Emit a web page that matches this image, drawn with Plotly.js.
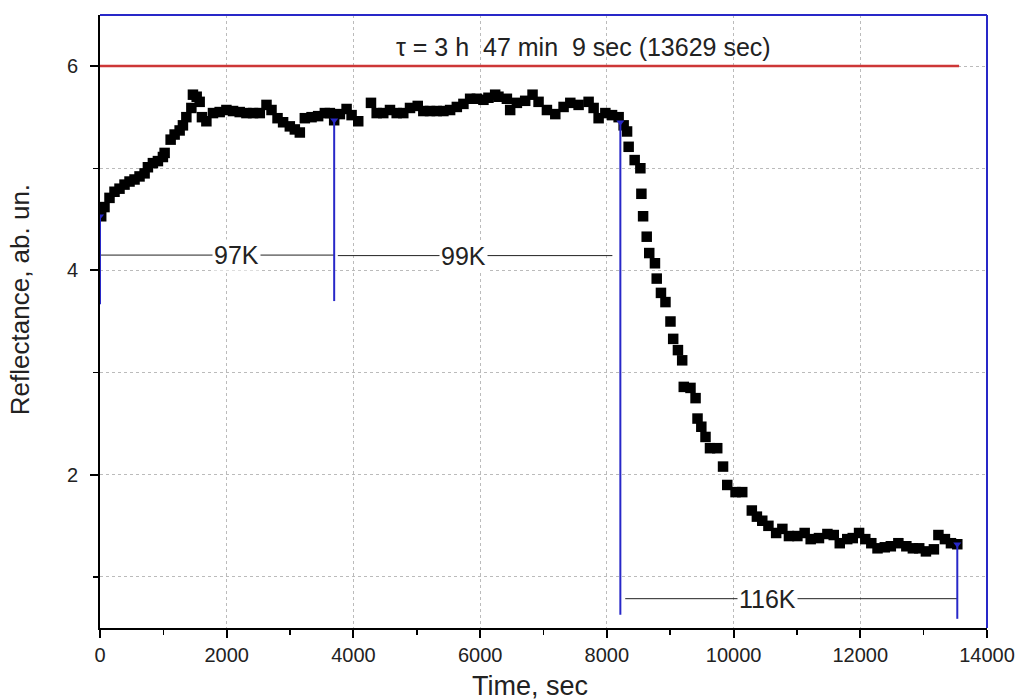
<!DOCTYPE html>
<html>
<head>
<meta charset="utf-8">
<script src="https://cdn.plot.ly/plotly-3.0.1.min.js"></script>
<style>html,body{margin:0;padding:0;background:#fff;}#chart{width:1020px;height:700px;}</style>
</head>
<body>
<div id="chart"></div>
<script>
// Measured reflectance (time in sec, reflectance in arb. units)
const timeSec = [
  19, 71, 150, 229, 308, 387, 466, 545, 624, 704, 756, 835, 914, 993, 1020,
  1115, 1178, 1257, 1309, 1363, 1442, 1467, 1526, 1573, 1609, 1679, 1783, 1889, 1995, 2100,
  2205, 2311, 2416, 2522, 2628, 2707, 2802, 2890, 2996, 3075, 3154,
  3233, 3339, 3443, 3549, 3628, 3696, 3786, 3892, 3971, 4076,
  4277, 4367, 4471, 4577, 4683, 4787, 4893, 5015, 5103, 5209, 5315, 5420, 5526, 5632, 5736,
  5842, 5948, 6052, 6131, 6237, 6289, 6422, 6474, 6580, 6711, 6827, 6922, 7054, 7186, 7317,
  7423, 7554, 7712, 7791, 7870, 7976, 8082, 8186,
  8265, 8319, 8344, 8439, 8529, 8545, 8572, 8629, 8669, 8759, 8787, 8854, 8925, 9004, 9047,
  9122, 9189, 9214, 9320, 9400, 9431, 9491, 9557, 9628, 9742, 9834, 9900, 10031, 10137,
  10288, 10368, 10453, 10550, 10672, 10770, 10874, 11007, 11122, 11217, 11348, 11481, 11581,
  11676, 11794, 11881, 11981, 12079, 12174, 12272, 12387, 12482, 12601, 12727, 12830, 12930,
  13036, 13162, 13233, 13336, 13431, 13531
];
const reflectance = [
  4.53, 4.62, 4.71, 4.77, 4.80, 4.84, 4.87, 4.89, 4.92, 4.95, 5.01, 5.05, 5.07, 5.11, 5.15,
  5.28, 5.33, 5.37, 5.42, 5.50, 5.59, 5.72, 5.70, 5.65, 5.50, 5.46, 5.54, 5.55, 5.57, 5.56,
  5.55, 5.54, 5.54, 5.54, 5.62, 5.57, 5.49, 5.45, 5.41, 5.38, 5.35,
  5.49, 5.50, 5.51, 5.54, 5.54, 5.47, 5.53, 5.58, 5.52, 5.46,
  5.64, 5.54, 5.54, 5.57, 5.54, 5.54, 5.59, 5.61, 5.56, 5.56, 5.56, 5.56, 5.57, 5.60, 5.63,
  5.68, 5.68, 5.67, 5.69, 5.72, 5.70, 5.68, 5.57, 5.64, 5.66, 5.72, 5.65, 5.57, 5.53, 5.60,
  5.64, 5.62, 5.65, 5.59, 5.49, 5.54, 5.52, 5.50,
  5.42, 5.36, 5.21, 5.08, 5.00, 4.75, 4.53, 4.33, 4.17, 4.07, 3.92, 3.78, 3.69, 3.50, 3.33,
  3.22, 3.12, 2.86, 2.85, 2.75, 2.55, 2.47, 2.37, 2.26, 2.26, 2.08, 1.90, 1.83, 1.83,
  1.65, 1.59, 1.55, 1.50, 1.43, 1.47, 1.40, 1.40, 1.43, 1.37, 1.38, 1.42, 1.41,
  1.33, 1.37, 1.38, 1.43, 1.37, 1.33, 1.28, 1.29, 1.30, 1.33, 1.30, 1.28, 1.28,
  1.25, 1.27, 1.41, 1.37, 1.33, 1.32
];

// Temperature switch markers (blue drop lines): time, top value, bottom value
const switchTimes = [0, 3696, 8213, 13531];
const switchTops = [4.53, 5.47, 5.45, 1.32];
const switchBottoms = [3.67, 3.70, 0.63, 0.59];

// Temperature intervals: start, end, level, label, label position
const intervalStart = [0, 3754, 8290];
const intervalEnd = [3696, 8087, 13531];
const intervalLevel = [4.15, 4.145, 0.787];
const intervalLabels = ['97K', '99K', '116K'];
const intervalLabelX = [2154, 5731, 10533];

// Lifetime reference line
const tauLevel = 6;
const tauStart = 0;
const tauEnd = 13560;
const tauText = 'τ = 3 h&nbsp;&nbsp;47 min&nbsp;&nbsp;9 sec (13629 sec)';
const tauTextX = 7630;
const tauTextY = 6.19;

const xTitle = 'Time, sec';
const yTitle = 'Reflectance, ab. un.';

const blue = 'rgb(40,40,200)';
const font = 'Liberation Sans, Arial, sans-serif';

const traces = [];

// red line
traces.push({
  x: [tauStart, tauEnd], y: [tauLevel, tauLevel], mode: 'lines',
  line: {color: 'rgb(205,55,55)', width: 2.5}, hoverinfo: 'skip', showlegend: false
});

// interval lines
for (let i = 0; i < intervalStart.length; i++) {
  traces.push({
    x: [intervalStart[i], intervalEnd[i]], y: [intervalLevel[i], intervalLevel[i]],
    mode: 'lines', line: {color: '#222', width: 1}, showlegend: false, hoverinfo: 'skip'
  });
}

// data squares
traces.push({
  x: timeSec, y: reflectance, mode: 'markers', type: 'scatter',
  marker: {symbol: 'square', size: 10.5, color: '#000'}, showlegend: false
});

// blue drop lines
for (let i = 0; i < switchTimes.length; i++) {
  traces.push({
    x: [switchTimes[i], switchTimes[i]], y: [switchTops[i], switchBottoms[i]],
    mode: 'lines', line: {color: blue, width: 2}, showlegend: false, hoverinfo: 'skip'
  });
  traces.push({
    x: [switchTimes[i]], y: [switchTops[i]], mode: 'markers',
    marker: {symbol: 'triangle-down', size: 7, color: blue}, showlegend: false, hoverinfo: 'skip'
  });
}

const annotations = intervalLabels.map((t, i) => ({
  x: intervalLabelX[i], y: intervalLevel[i], xref: 'x', yref: 'y', text: t,
  showarrow: false, bgcolor: '#fff', borderpad: 1,
  font: {family: font, size: 25, color: '#222'}
}));
annotations.push({
  x: tauTextX, y: tauTextY, xref: 'x', yref: 'y', text: tauText, showarrow: false,
  font: {family: font, size: 25, color: '#222'}
});
// axis titles placed as annotations to match reference positions
annotations.push({
  xref: 'paper', yref: 'paper', x: (530 - 100) / 887, y: -0.095, yanchor: 'middle',
  text: xTitle, showarrow: false, font: {family: font, size: 27, color: '#222'}
});
annotations.push({
  xref: 'paper', yref: 'paper', x: -0.09, xanchor: 'center', y: (628 - 300) / 613,
  yanchor: 'middle', textangle: -90,
  text: yTitle, showarrow: false, font: {family: font, size: 26, color: '#222'}
});

const layout = {
  width: 1020, height: 700,
  margin: {l: 100, r: 33, t: 15, b: 72, pad: 0},
  paper_bgcolor: '#fff', plot_bgcolor: '#fff',
  showlegend: false,
  font: {family: font, color: '#222'},
  xaxis: {
    range: [0, 14000], dtick: 2000, tick0: 0, tickformat: 'd',
    ticks: 'outside', ticklen: 8, tickwidth: 2, tickcolor: '#000',
    showline: true, linecolor: '#000', linewidth: 2,
    showgrid: true, gridcolor: '#bbb', gridwidth: 1, griddash: 'dot',
    zeroline: false,
    tickfont: {family: font, size: 20, color: '#222'},
    minor: {dtick: 1000, ticklen: 5, tickwidth: 1.5, tickcolor: '#000', showgrid: false}
  },
  yaxis: {
    range: [0.5, 6.5], dtick: 2, tick0: 0,
    ticks: 'outside', ticklen: 8, tickwidth: 2, tickcolor: '#000',
    ticklabelstandoff: 8,
    showline: true, linecolor: '#000', linewidth: 2,
    showgrid: true, gridcolor: '#bbb', gridwidth: 1, griddash: 'dot',
    zeroline: false,
    tickfont: {family: font, size: 20, color: '#222'},
    minor: {dtick: 1, ticklen: 5, tickwidth: 1.5, tickcolor: '#000', showgrid: true,
            gridcolor: '#bbb', gridwidth: 1, griddash: 'dot'}
  },
  shapes: [
    {type: 'line', xref: 'paper', yref: 'paper', x0: 0, x1: 1, y0: 1, y1: 1,
     line: {color: blue, width: 2}},
    {type: 'line', xref: 'paper', yref: 'paper', x0: 1, x1: 1, y0: 0, y1: 1,
     line: {color: blue, width: 2}}
  ],
  annotations: annotations
};

Plotly.newPlot('chart', traces, layout, {displayModeBar: false, staticPlot: true});
</script>
</body>
</html>
